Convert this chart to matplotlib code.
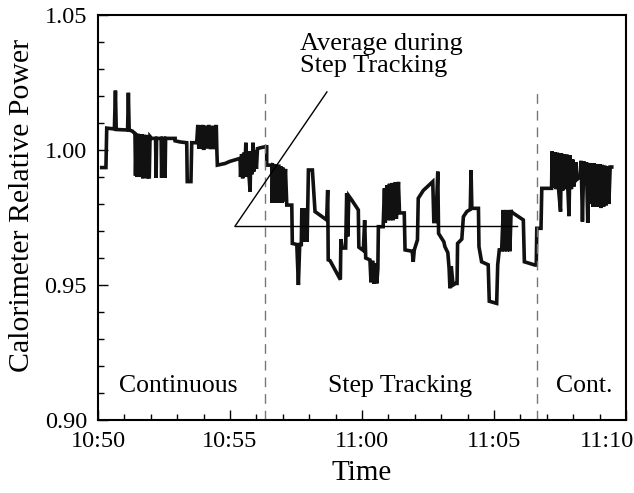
import matplotlib
matplotlib.use('Agg')
import matplotlib.pyplot as plt
from matplotlib.ticker import MultipleLocator
from matplotlib.transforms import ScaledTranslation

# minutes after 10:50, relative power
cont1_t = [0.14, 0.30, 0.33, 0.62, 0.66, 0.69, 1.12, 1.15, 1.18, 1.30, 1.34,
           1.40, 1.42, 1.45, 1.48, 1.52, 1.55, 1.58, 1.62, 1.66, 1.70, 1.74, 1.78,
           1.82, 1.86, 1.90, 1.94, 1.97, 2.03, 2.18, 2.20, 2.22, 2.39, 2.41, 2.43,
           2.52, 2.54, 2.56, 2.92, 2.92, 3.10, 3.36, 3.38, 3.52, 3.55, 3.72, 3.74,
           3.78, 3.82, 3.86, 3.90, 3.96, 4.00, 4.06, 4.12, 4.20, 4.26, 4.34, 4.40,
           4.48, 4.50, 4.52, 4.81, 5.00, 5.38, 5.40, 5.44, 5.48, 5.52, 5.56, 5.60,
           5.63, 5.67, 5.72, 5.76, 5.79, 5.83, 5.87, 5.90, 5.94, 6.00, 6.04, 6.14, 6.33]
cont1_p = [0.9935, 0.9935, 1.0081, 1.0078, 1.0220, 1.0076, 1.0074, 1.0212, 1.0074, 1.0070, 1.0066,
           1.0062, 0.9905, 1.0060, 0.9900, 1.0060, 0.9905, 1.0058, 0.9900, 1.0058, 0.9895, 1.0056, 0.9900,
           1.0056, 0.9895, 1.0055, 0.9895, 1.0050, 1.0043, 1.0043, 0.9897, 1.0043, 1.0043, 0.9897, 1.0043,
           1.0043, 0.9897, 1.0043, 1.0043, 1.0034, 1.0030, 1.0027, 0.9883, 0.9883, 1.0027, 1.0027, 1.0030,
           1.0093, 1.0005, 1.0090, 1.0005, 1.0093, 1.0000, 1.0090, 1.0005, 1.0093, 1.0003, 1.0090, 1.0003,
           1.0093, 1.0003, 0.9944, 0.9950, 0.9958, 0.9969, 0.9900, 0.9985, 0.9895, 0.9990, 0.9925, 1.0027,
           0.9900, 0.9995, 0.9905, 0.9846, 0.9995, 0.9910, 1.0027, 0.9920, 1.0000, 0.9930, 1.0005, 1.0008, 1.0012]

step_t = [6.39, 6.39, 6.58, 6.60, 6.63, 6.72, 6.74, 6.77, 6.85, 6.88, 6.92, 6.96, 7.00, 7.04,
          7.10, 7.15, 7.34, 7.36, 7.53, 7.59, 7.64, 7.70, 7.72, 7.76, 7.80, 7.84, 7.88, 7.92,
          7.97, 8.12, 8.22, 8.66, 8.70, 8.72, 8.79, 9.18, 9.20, 9.25, 9.38, 9.42, 9.46, 9.50,
          9.61, 9.86, 9.88, 10.05, 10.10, 10.14, 10.30, 10.34, 10.40, 10.45, 10.52, 10.56, 10.60,
          10.62, 10.80, 10.85, 10.88, 10.94, 10.98, 11.04, 11.08, 11.14, 11.18, 11.26, 11.30,
          11.38, 11.42, 11.60, 11.63, 11.90, 11.94, 11.98, 12.10, 12.13, 12.32, 12.68, 12.72,
          12.80, 12.87, 12.90, 13.10, 13.14, 13.25, 13.30, 13.33, 13.38, 13.45, 13.55, 13.60,
          13.62, 13.78, 13.84, 13.97, 14.10, 14.13, 14.16, 14.41, 14.43, 14.53, 14.78, 14.82,
          15.10, 15.14, 15.20, 15.29, 15.35, 15.40, 15.45, 15.50, 15.55, 15.60, 15.65, 15.67,
          16.11, 16.15, 16.55, 16.60, 16.62, 16.78, 16.81, 17.18]
step_p = [1.0012, 0.9944, 0.9944, 0.9804, 0.9944, 0.9940, 0.9804, 0.9940, 0.9940, 0.9804, 0.9940, 0.9804, 0.9935, 0.9810,
          0.9930, 0.9796, 0.9796, 0.9654, 0.9650, 0.9500, 0.9650, 0.9650, 0.9784, 0.9660, 0.9784, 0.9660, 0.9784, 0.9660,
          0.9926, 0.9926, 0.9772, 0.9741, 0.9852, 0.9593, 0.9590, 0.9520, 0.9670, 0.9637, 0.9637, 0.9840, 0.9680, 0.9830,
          0.9815, 0.9778, 0.9640, 0.9628, 0.9740, 0.9600, 0.9593, 0.9510, 0.9590, 0.9505, 0.9580, 0.9506, 0.9560,
          0.9716, 0.9716, 0.9858, 0.9730, 0.9870, 0.9740, 0.9875, 0.9740, 0.9878, 0.9740, 0.9880, 0.9745,
          0.9882, 0.9767, 0.9767, 0.9630, 0.9625, 0.9586, 0.9630, 0.9667, 0.9821, 0.9850, 0.9883, 0.9735,
          0.9735, 0.9920, 0.9691, 0.9660, 0.9642, 0.9620, 0.9560, 0.9488, 0.9570, 0.9500, 0.9506, 0.9506,
          0.9654, 0.9670, 0.9753, 0.9772, 0.9780, 0.9926, 0.9784, 0.9784, 0.9642, 0.9586, 0.9575, 0.9440,
          0.9432, 0.9575, 0.9630, 0.9630, 0.9778, 0.9625, 0.9778, 0.9625, 0.9778, 0.9625, 0.9778, 0.9770,
          0.9741, 0.9586, 0.9574, 0.9574, 0.9710, 0.9710, 0.9858, 0.9858]

cont2_t = [17.20, 17.25, 17.30, 17.35, 17.40, 17.45, 17.52, 17.55, 17.60, 17.65, 17.70, 17.76,
           17.80, 17.84, 17.88, 17.93, 17.98, 18.03, 18.10, 18.13, 18.25, 18.30, 18.35, 18.40,
           18.45, 18.50, 18.55, 18.60, 18.65, 18.70, 18.75, 18.80, 18.85, 18.90, 18.95, 19.00,
           19.05, 19.10, 19.15, 19.20, 19.25, 19.30, 19.35, 19.40, 19.46]
cont2_p = [0.9995, 0.9860, 0.9992, 0.9855, 0.9990, 0.9850, 0.9772, 0.9988, 0.9850, 0.9985, 0.9855, 0.9983,
           0.9850, 0.9755, 0.9980, 0.9855, 0.9965, 0.9865, 0.9955, 0.9890, 0.9900, 0.9960, 0.9735, 0.9958,
           0.9870, 0.9955, 0.9730, 0.9952, 0.9800, 0.9950, 0.9790, 0.9950, 0.9790, 0.9948, 0.9790, 0.9948,
           0.9785, 0.9945, 0.9790, 0.9942, 0.9795, 0.9940, 0.9800, 0.9937, 0.9937]

step_avg = 0.9718
avg_span = [5.19, 15.87]
phase_edges = [6.33, 16.62]
tick_labels = ['10:50', '10:55', '11:00', '11:05', '11:10']

plt.rcParams['font.family'] = ['Liberation Serif', 'DejaVu Serif']

fig = plt.figure(figsize=(6.34, 4.93), dpi=100)
ax = fig.add_axes([0.1546, 0.148, 0.8328, 0.8216])

t = cont1_t + step_t + cont2_t
p = cont1_p + step_p + cont2_p
ax.plot(t, p, color='#111111', lw=2.6, solid_joinstyle='miter')

ax.plot(avg_span, [step_avg, step_avg], color='black', lw=1.0)
for x in phase_edges:
    ax.plot([x, x], [0.90, 1.0211], color='#777777', lw=1.0, dashes=(7, 5))

# pointer to the average line
ax.plot([5.19, 8.67], [step_avg, 1.0215], color='black', lw=1.0)
ax.text(7.65, 1.0435, 'Average during\nStep Tracking', fontsize=19, va='top',
        ha='left', linespacing=1.0)

ax.text(3.05, 0.9125, 'Continuous', fontsize=18.5, ha='center', va='center')
ax.text(11.45, 0.9125, 'Step Tracking', fontsize=18.5, ha='center', va='center')
ax.text(18.4, 0.9125, 'Cont.', fontsize=18.5, ha='center', va='center')

ax.set_xlim(0, 20)
ax.set_ylim(0.90, 1.05)
ax.set_xticks([0, 5, 10, 15, 20])
ax.set_xticklabels(tick_labels)
ax.set_yticks([0.90, 0.95, 1.00, 1.05])
ax.set_yticklabels(['0.90', '0.95', '1.00', '1.05'])
ax.xaxis.set_minor_locator(MultipleLocator(1))
ax.yaxis.set_minor_locator(MultipleLocator(0.01))
ax.tick_params(which='both', direction='in', labelsize=17.5, width=1.0)
ax.tick_params(which='major', length=7, pad=8)
ax.tick_params(which='minor', length=4)
for s in ax.spines.values():
    s.set_linewidth(1.5)

# last time label sits flush with the right edge
last = ax.get_xticklabels()[-1]
last.set_horizontalalignment('right')
last.set_transform(last.get_transform() + ScaledTranslation(8 / 100, 0, fig.dpi_scale_trans))

ax.set_xlabel('Time', fontsize=21, labelpad=6)
ax.set_ylabel('Calorimeter Relative Power', fontsize=21.5)
ax.yaxis.set_label_coords(-0.12, 0.53)

fig.savefig('out.png', dpi=100)
